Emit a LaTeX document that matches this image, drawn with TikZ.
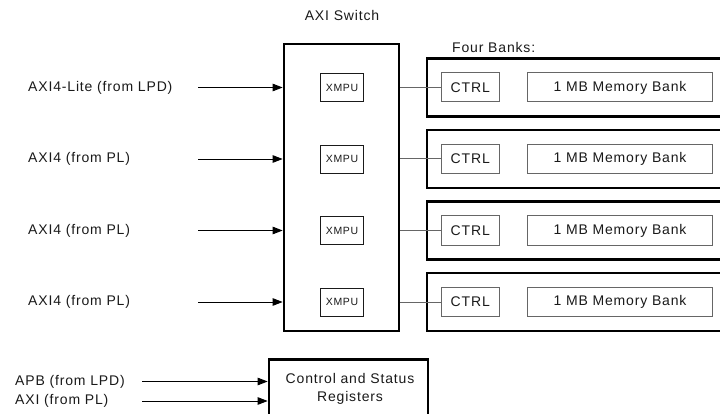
\documentclass[tikz,border=0pt]{standalone}
\usepackage{fontspec}
\setmainfont{Liberation Sans}[LetterSpace=6]
\usetikzlibrary{arrows.meta,positioning}
\definecolor{ink}{HTML}{1A1A1A}
\definecolor{soft}{HTML}{666666}
\tikzset{
  txt/.style={font=\fontsize{14}{16}\selectfont, text=ink, inner sep=0pt},
  heavybox/.style={draw=black, line width=2.7pt, inner sep=0pt},
  xmpubox/.style={draw=ink, line width=0.8pt, minimum width=43.5pt, minimum height=28pt,
    inner sep=0pt, font=\fontsize{10.5}{12}\selectfont, text=ink},
  greybox/.style={draw=soft, line width=1pt, minimum height=29pt, inner sep=0pt,
    font=\fontsize{14}{16}\selectfont, text=ink},
  feed/.style={draw=black, line width=0.9pt, -{Triangle[length=10pt,width=7.5pt]}},
  link/.style={draw=soft, line width=1pt},
}
\begin{document}
\begin{tikzpicture}[x=1pt, y=-1pt]
  \clip (0,0) rectangle (720,414);
  \fill[white] (0,0) rectangle (720,414);

  % switch fabric with one XMPU per port
  \node[txt] (swlabel) at (342,15) {AXI Switch};
  \node[heavybox, minimum width=115pt, minimum height=287pt] (sw) at (341.5,187.5) {};
  \node[txt, anchor=west] (fourbanks) at (452,47) {Four Banks:};

  \foreach \i/\y/\lab in {1/87.5/{AXI4-Lite (from LPD)}, 2/159/{AXI4 (from PL)},
                          3/230.5/{AXI4 (from PL)}, 4/302/{AXI4 (from PL)}} {
    \node[xmpubox] (x\i) at (342,\y) {XMPU};
    \node[heavybox, minimum width=310pt, minimum height=58pt] (bank\i) at (582,\y) {};
    \node[greybox, minimum width=57.5pt] (ctrl\i) at (470.25,\y) {CTRL};
    \node[greybox, minimum width=185pt] (mem\i) at (620,\y) {1 MB Memory Bank};
    \draw[link] (sw.east |- ctrl\i.west) -- (ctrl\i.west);
    \node[txt, anchor=west] (in\i) at (28,\y) {\lab};
    \coordinate (src\i) at (198,\y);
    \draw[feed] (src\i) -- (src\i -| sw.west);
  }

  % register block
  \node[heavybox, minimum width=159pt, minimum height=80pt] (csr) at (348.5,399.5) {};
  \node[txt, align=center, anchor=north] (csrtext) at (350,373.5)
    {Control and Status\\[2pt]Registers};
  \node[txt, anchor=west] (apb) at (15,381.5) {APB (from LPD)};
  \node[txt, anchor=west] (axi) at (15,401) {AXI (from PL)};
  \coordinate (srcA) at (142,381.5);
  \coordinate (srcB) at (142,401);
  \draw[feed] (srcA) -- (srcA -| csr.west);
  \draw[feed] (srcB) -- (srcB -| csr.west);
\end{tikzpicture}
\end{document}
